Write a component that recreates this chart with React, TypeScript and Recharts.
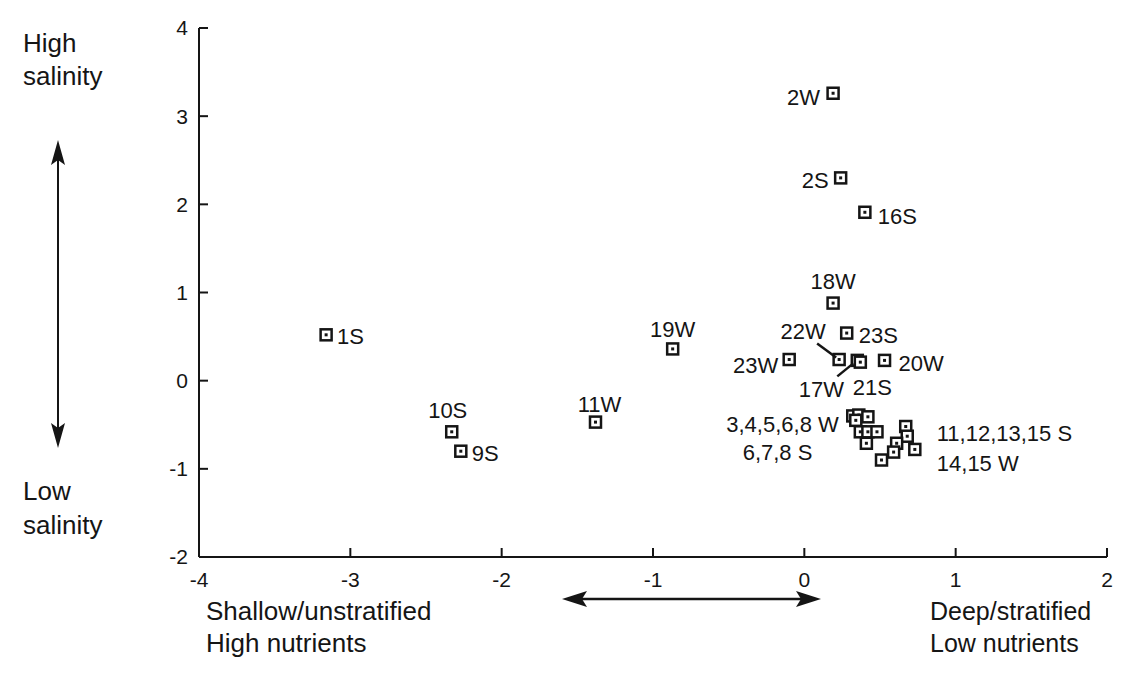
import React from "react";
import { ScatterChart, Scatter, XAxis, YAxis } from "recharts";

// station codes, first axis score, second axis score
const stations = [
  "1S", "10S", "9S", "11W", "19W", "23W", "22W", "17W", "21S", "23S", "20W", "18W", "2W", "2S", "16S",
  "3W", "4W", "5W", "6W", "8W", "6S", "7S", "8S",
  "11S", "12S", "13S", "15S", "14W", "15W",
];
const axis1 = [
  -3.16, -2.33, -2.27, -1.38, -0.87, -0.1, 0.23, 0.35, 0.37, 0.28, 0.53, 0.19, 0.19, 0.24, 0.4,
  0.32, 0.36, 0.42, 0.34, 0.37, 0.42, 0.48, 0.41,
  0.67, 0.68, 0.61, 0.59, 0.51, 0.73,
];
const axis2 = [
  0.52, -0.58, -0.8, -0.47, 0.36, 0.24, 0.24, 0.23, 0.21, 0.54, 0.23, 0.88, 3.26, 2.3, 1.91,
  -0.4, -0.39, -0.41, -0.45, -0.58, -0.58, -0.58, -0.71,
  -0.52, -0.63, -0.71, -0.81, -0.9, -0.78,
];
// text shown beside each point ("" = covered by a group label)
const pointLabels = [
  "1S", "10S", "9S", "11W", "19W", "23W", "22W", "17W", "21S", "23S", "20W", "18W", "2W", "2S", "16S",
  "3,4,5,6,8 W", "", "", "", "", "", "", "6,7,8 S",
  "11,12,13,15 S", "", "", "", "", "14,15 W",
];

const xTicks = [-4, -3, -2, -1, 0, 1, 2];
const yTicks = [-2, -1, 0, 1, 2, 3, 4];

type Place = { dx: number; dy: number; anchor: "start" | "middle" | "end"; line?: number[] };
const placement: Record<string, Place> = {
  "1S": { dx: 11, dy: 2, anchor: "start" },
  "10S": { dx: -4, dy: -21, anchor: "middle" },
  "9S": { dx: 11, dy: 2, anchor: "start" },
  "11W": { dx: 4, dy: -18, anchor: "middle" },
  "19W": { dx: 0, dy: -19, anchor: "middle" },
  "23W": { dx: -11, dy: 6, anchor: "end" },
  "22W": { dx: -36, dy: -28, anchor: "middle", line: [-22, -16, -3, -2] },
  "17W": { dx: -36, dy: 29, anchor: "middle", line: [-20, 16, -4, 3] },
  "21S": { dx: 12, dy: 25, anchor: "middle" },
  "23S": { dx: 12, dy: 2, anchor: "start" },
  "20W": { dx: 14, dy: 3, anchor: "start" },
  "18W": { dx: 0, dy: -22, anchor: "middle" },
  "2W": { dx: -13, dy: 4, anchor: "end" },
  "2S": { dx: -12, dy: 3, anchor: "end" },
  "16S": { dx: 13, dy: 4, anchor: "start" },
  "3,4,5,6,8 W": { dx: -14, dy: 9, anchor: "end" },
  "6,7,8 S": { dx: -54, dy: 9, anchor: "end" },
  "11,12,13,15 S": { dx: 31, dy: 7, anchor: "start" },
  "14,15 W": { dx: 22, dy: 14, anchor: "start" },
};

const data = stations.map((s, i) => ({ station: s, x: axis1[i], y: axis2[i], label: pointLabels[i] }));

const font = "'Liberation Sans', Arial, sans-serif";
const ink = "#151515";

const StationMark = (props: any) => {
  const { cx, cy, payload } = props;
  if (cx == null || cy == null) return null;
  const p = placement[payload.label];
  return (
    <g>
      <rect x={cx - 5.5} y={cy - 5.5} width={11} height={11} fill="#fff" stroke={ink} strokeWidth={2.5} />
      <rect x={cx - 1.5} y={cy - 1.5} width={3} height={3} fill={ink} />
      {p && p.line && (
        <line x1={cx + p.line[0]} y1={cy + p.line[1]} x2={cx + p.line[2]} y2={cy + p.line[3]} stroke={ink} strokeWidth={2.5} />
      )}
      {p && (
        <text x={cx + p.dx} y={cy + p.dy} textAnchor={p.anchor} dominantBaseline="central" fontSize={22} fontFamily={font} fill={ink}>
          {payload.label}
        </text>
      )}
    </g>
  );
};

const tickCss = `
.axis-ticks .recharts-cartesian-axis-tick-value,
.axis-ticks .recharts-cartesian-axis-tick text {
  font-size: 21px;
  font-family: 'Liberation Sans', Arial, sans-serif;
  fill: ${ink};
}
`;

const Arrows = () => (
  <svg width={1126} height={691} style={{ position: "absolute", left: 0, top: 0, pointerEvents: "none" }}>
    <g fontFamily={font} fontSize={26} fill={ink}>
      <text x={23} y={52}>High</text>
      <text x={23} y={85}>salinity</text>
      <text x={23} y={500}>Low</text>
      <text x={23} y={534}>salinity</text>
      <text x={206} y={620}>Shallow/unstratified</text>
      <text x={206} y={652}>High nutrients</text>
    </g>
    <g fontFamily={font} fontSize={25} fill={ink}>
      <text x={930} y={620}>Deep/stratified</text>
      <text x={930} y={652}>Low nutrients</text>
    </g>
    <line x1={58} y1={155} x2={58} y2={435} stroke={ink} strokeWidth={2} />
    <path d="M58 140 L51 165 L58 160 L65 165 Z" fill={ink} />
    <path d="M58 448 L51 423 L58 428 L65 423 Z" fill={ink} />
    <line x1={575} y1={599} x2={808} y2={599} stroke={ink} strokeWidth={2.5} />
    <path d="M562 599 L587 591 L582 599 L587 607 Z" fill={ink} />
    <path d="M821 599 L796 591 L801 599 L796 607 Z" fill={ink} />
  </svg>
);

export default function App() {
  return (
    <div className="axis-ticks" style={{ position: "absolute", left: 0, top: 0, width: 1126, height: 691, background: "#fff" }}>
      <style>{tickCss}</style>
      <ScatterChart width={1126} height={691} margin={{ top: 28, right: 19, bottom: 104, left: 139 }}>
        <XAxis
          type="number"
          dataKey="x"
          domain={[-4, 2]}
          ticks={xTicks}
          height={30}
          axisLine={{ stroke: ink, strokeWidth: 2 }}
          tickLine={{ stroke: ink, strokeWidth: 2 }}
          tickSize={-9}
          tickMargin={24}
          tick={{ fontSize: 21, fill: ink }}
          allowDataOverflow
        />
        <YAxis
          type="number"
          dataKey="y"
          domain={[-2, 4]}
          ticks={yTicks}
          width={60}
          axisLine={{ stroke: ink, strokeWidth: 2 }}
          tickLine={{ stroke: ink, strokeWidth: 2 }}
          tickSize={-9}
          tickMargin={20}
          tick={{ fontSize: 21, fill: ink }}
          allowDataOverflow
        />
        <Scatter data={data} shape={StationMark} isAnimationActive={false} />
      </ScatterChart>
      <Arrows />
    </div>
  );
}
